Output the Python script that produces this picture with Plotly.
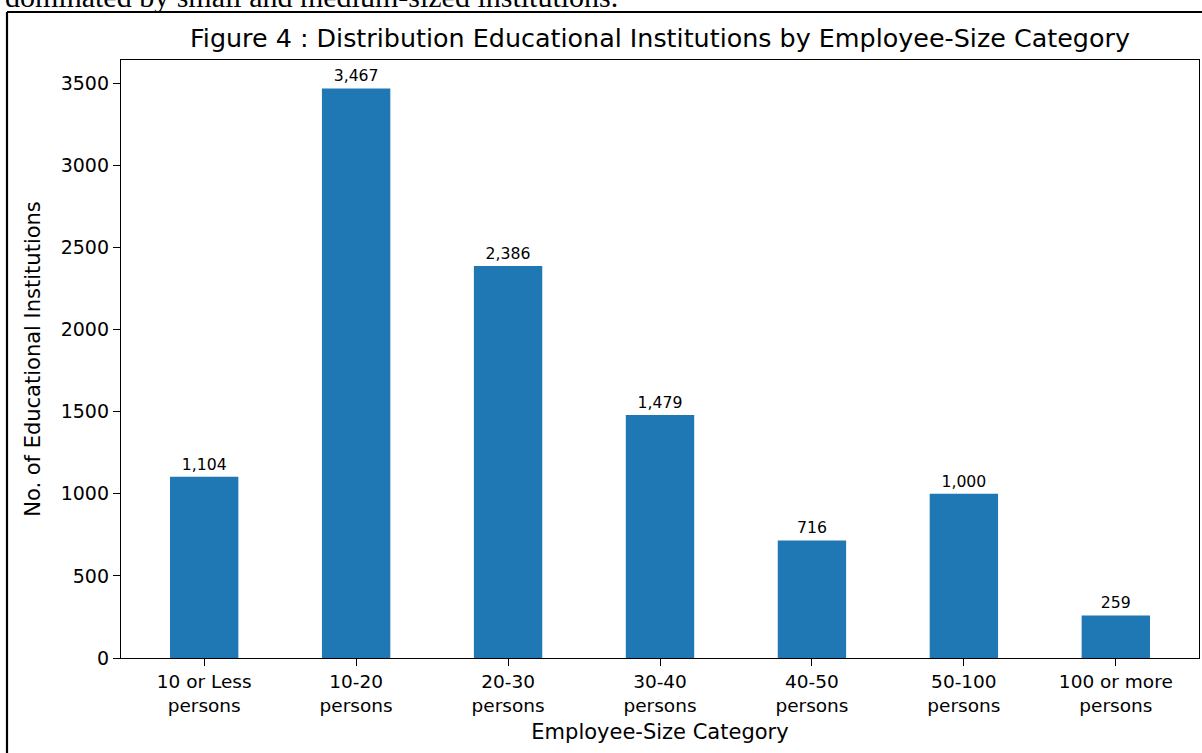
import plotly.graph_objects as go

categories = ["10 or Less<br>persons", "10-20<br>persons", "20-30<br>persons", "30-40<br>persons",
              "40-50<br>persons", "50-100<br>persons", "100 or more<br>persons"]
counts = [1104, 3467, 2386, 1479, 716, 1000, 259]
y_ticks = [0, 500, 1000, 1500, 2000, 2500, 3000, 3500]

W, H = 1202, 753
L, R, T, B = 121, 1199, 60, 658
pw, ph = R - L, B - T

def px_x(x):
    return (x - L) / pw

def px_y(y):
    return (B - y) / ph

fig = go.Figure(go.Bar(
    x=list(range(len(categories))), y=counts, width=0.45,
    marker=dict(color="#1f77b4", line=dict(width=0)),
    texttemplate="%{y:,}", textposition="outside", cliponaxis=False,
    textfont=dict(family="DejaVu Sans", size=15.7, color="black"),
))

fig.update_layout(
    width=W, height=H,
    margin=dict(l=L, r=W - R, t=T, b=H - B, pad=0),
    paper_bgcolor="white", plot_bgcolor="white",
    font=dict(family="DejaVu Sans", color="black"),
    showlegend=False,
    title=dict(text="Figure 4 : Distribution Educational Institutions by Employee-Size Category",
               x=0.5, xref="paper", xanchor="center", y=1 - 38 / H, yanchor="middle",
               font=dict(size=25.4, family="DejaVu Sans", color="black")),
    xaxis=dict(range=[-0.5475, 6.5475], tickmode="array", tickvals=list(range(len(categories))),
               ticktext=categories, ticks="outside", ticklen=7, tickwidth=1.3, tickcolor="black",
               showline=True, linecolor="black", linewidth=1.3, mirror=True, showgrid=False,
               zeroline=False, tickfont=dict(size=18.5, family="DejaVu Sans"),
               title=dict(text="Employee-Size Category", font=dict(size=21, family="DejaVu Sans"), standoff=8)),
    yaxis=dict(range=[0, 3640.35], tickmode="array", tickvals=y_ticks, ticktext=[str(v) for v in y_ticks],
               ticks="outside", ticklen=7, tickwidth=1.3, tickcolor="black",
               showline=True, linecolor="black", linewidth=1.3, mirror=True, showgrid=False,
               zeroline=False, tickfont=dict(size=19, family="DejaVu Sans"),
               title=dict(text="No. of Educational Institutions", font=dict(size=21, family="DejaVu Sans"), standoff=14)),
)

# outer border (left and top edges visible)
fig.add_shape(type="line", xref="paper", yref="paper", x0=px_x(7), x1=px_x(7), y0=px_y(12), y1=px_y(760),
              line=dict(color="black", width=2.2))
fig.add_shape(type="line", xref="paper", yref="paper", x0=px_x(7), x1=px_x(1210), y0=px_y(12), y1=px_y(12),
              line=dict(color="black", width=2.2))

# clipped document text above the chart
fig.add_annotation(text="dominated by small and medium-sized institutions.", xref="paper", yref="paper",
                   x=px_x(3), y=px_y(15.5), xanchor="left", yanchor="bottom", showarrow=False,
                   font=dict(family="Liberation Serif", size=30, color="black"))

fig.write_html("out.html", config={"displayModeBar": False},
               post_script="document.body.style.margin='0';document.body.style.overflow='hidden';")
